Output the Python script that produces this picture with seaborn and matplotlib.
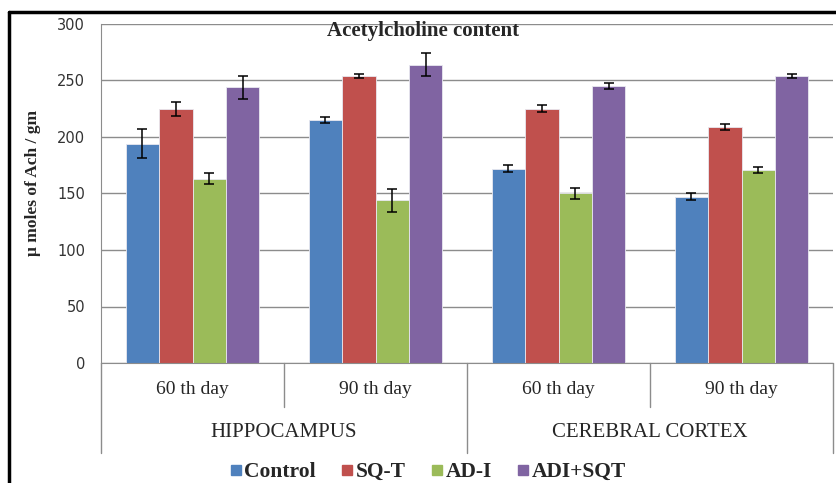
# Acetylcholine content bar chart, grouped by region and day
import pandas as pd
import seaborn as sns
import matplotlib.pyplot as plt
from matplotlib.lines import Line2D

sns.set_style('white')
plt.rcParams['font.family'] = ['Liberation Serif', 'DejaVu Serif']

# data
days = ["60 th day", "90 th day", "60 th day ", "90 th day "]
regions = ["HIPPOCAMPUS", "CEREBRAL CORTEX"]
groups = ["Control", "SQ-T", "AD-I", "ADI+SQT"]
control = [194, 215, 172, 147]
sqt = [225, 254, 225, 209]
adi = [163, 144, 150, 171]
adi_sqt = [244, 264, 245, 254]
control_err = [13, 3, 3, 3]
sqt_err = [6, 2, 3, 2.5]
adi_err = [5, 10, 5, 2.5]
adi_sqt_err = [10, 10, 2.5, 2]

colors = ["#4F81BD", "#C0504D", "#9BBB59", "#8064A2"]

rows = []
for g, vals, errs in zip(groups, [control, sqt, adi, adi_sqt],
                         [control_err, sqt_err, adi_err, adi_sqt_err]):
    for d, v, e in zip(days, vals, errs):
        rows.append({"day": d, "group": g, "value": v, "err": e})
df = pd.DataFrame(rows)

fig = plt.figure(figsize=(8.36, 4.83), dpi=100)
ax = fig.add_axes([101 / 836, 1 - 363 / 483, 732 / 836, 339 / 483])

sns.barplot(data=df, x="day", y="value", hue="group", order=days,
            hue_order=groups, palette=colors, width=0.73, ax=ax,
            errorbar=None, edgecolor="#e8e8f0", linewidth=0.6, saturation=1)

# error bars on the bar centres
for patch_group, g in zip(ax.containers, groups):
    sub = df[df.group == g].set_index("day").loc[days]
    xs = [p.get_x() + p.get_width() / 2 for p in patch_group]
    ax.errorbar(xs, sub["value"], yerr=sub["err"], fmt="none",
                ecolor="black", elinewidth=1.1, capsize=3.6, capthick=1.1,
                zorder=5)

ax.set_ylim(0, 300)
ax.set_xlim(-0.5, 3.5)
ax.set_yticks(range(0, 301, 50))
ax.yaxis.grid(True, color="#8c8c8c", lw=1)
ax.set_axisbelow(True)
for t in ax.get_yticklabels():
    t.set_fontfamily("DejaVu Sans")
    t.set_fontsize(10.5)
    t.set_color("#333333")
ax.tick_params(axis='y', length=4.3, color="#8c8c8c", pad=7)
ax.tick_params(axis='x', length=0, pad=13, labelsize=14)
ax.set_xticks(range(4))
ax.set_xticklabels([d.strip() for d in days])

for side in ["top", "right"]:
    ax.spines[side].set_visible(False)
ax.spines["left"].set_color("#8c8c8c")
ax.spines["bottom"].set_color("#8c8c8c")

# category separators below the axis
trans = ax.get_xaxis_transform()
for x, depth in [(-0.5, -0.265), (0.5, -0.13), (1.5, -0.265),
                 (2.5, -0.13), (3.5, -0.265)]:
    ax.plot([x, x], [0, depth], color="#8c8c8c", lw=1,
            transform=trans, clip_on=False)
for i, r in enumerate(regions):
    ax.text(0.5 + 2 * i, -0.206, r, transform=trans, ha="center",
            va="center", fontsize=15)

ax.set_xlabel("")
ax.set_ylabel("μ moles of Ach / gm", fontsize=12.5, fontweight="bold")
ax.yaxis.set_label_coords(-0.082, 0.53)
ax.text(1.26, 0.98, "Acetylcholine content", transform=trans,
        ha="center", va="center", fontsize=15, fontweight="bold")

ax.get_legend().remove()
handles = [Line2D([], [], marker="s", ls="", color=c, markersize=7)
           for c in colors]
fig.legend(handles, groups, loc="center", ncol=4,
           bbox_to_anchor=(427 / 836, 1 - 472 / 483), frameon=False,
           prop={"weight": "bold", "size": 15.5}, handletextpad=0.05,
           handlelength=0.7, columnspacing=1.1, borderpad=0)

# partial black frame of the original figure
fig.add_artist(Line2D([9 / 836, 1], [1 - 12 / 483, 1 - 12 / 483],
                      color="black", lw=2.5, transform=fig.transFigure))
fig.add_artist(Line2D([9 / 836, 9 / 836], [0, 1 - 12 / 483],
                      color="black", lw=2.5, transform=fig.transFigure))

fig.savefig("out.png", dpi=100)
